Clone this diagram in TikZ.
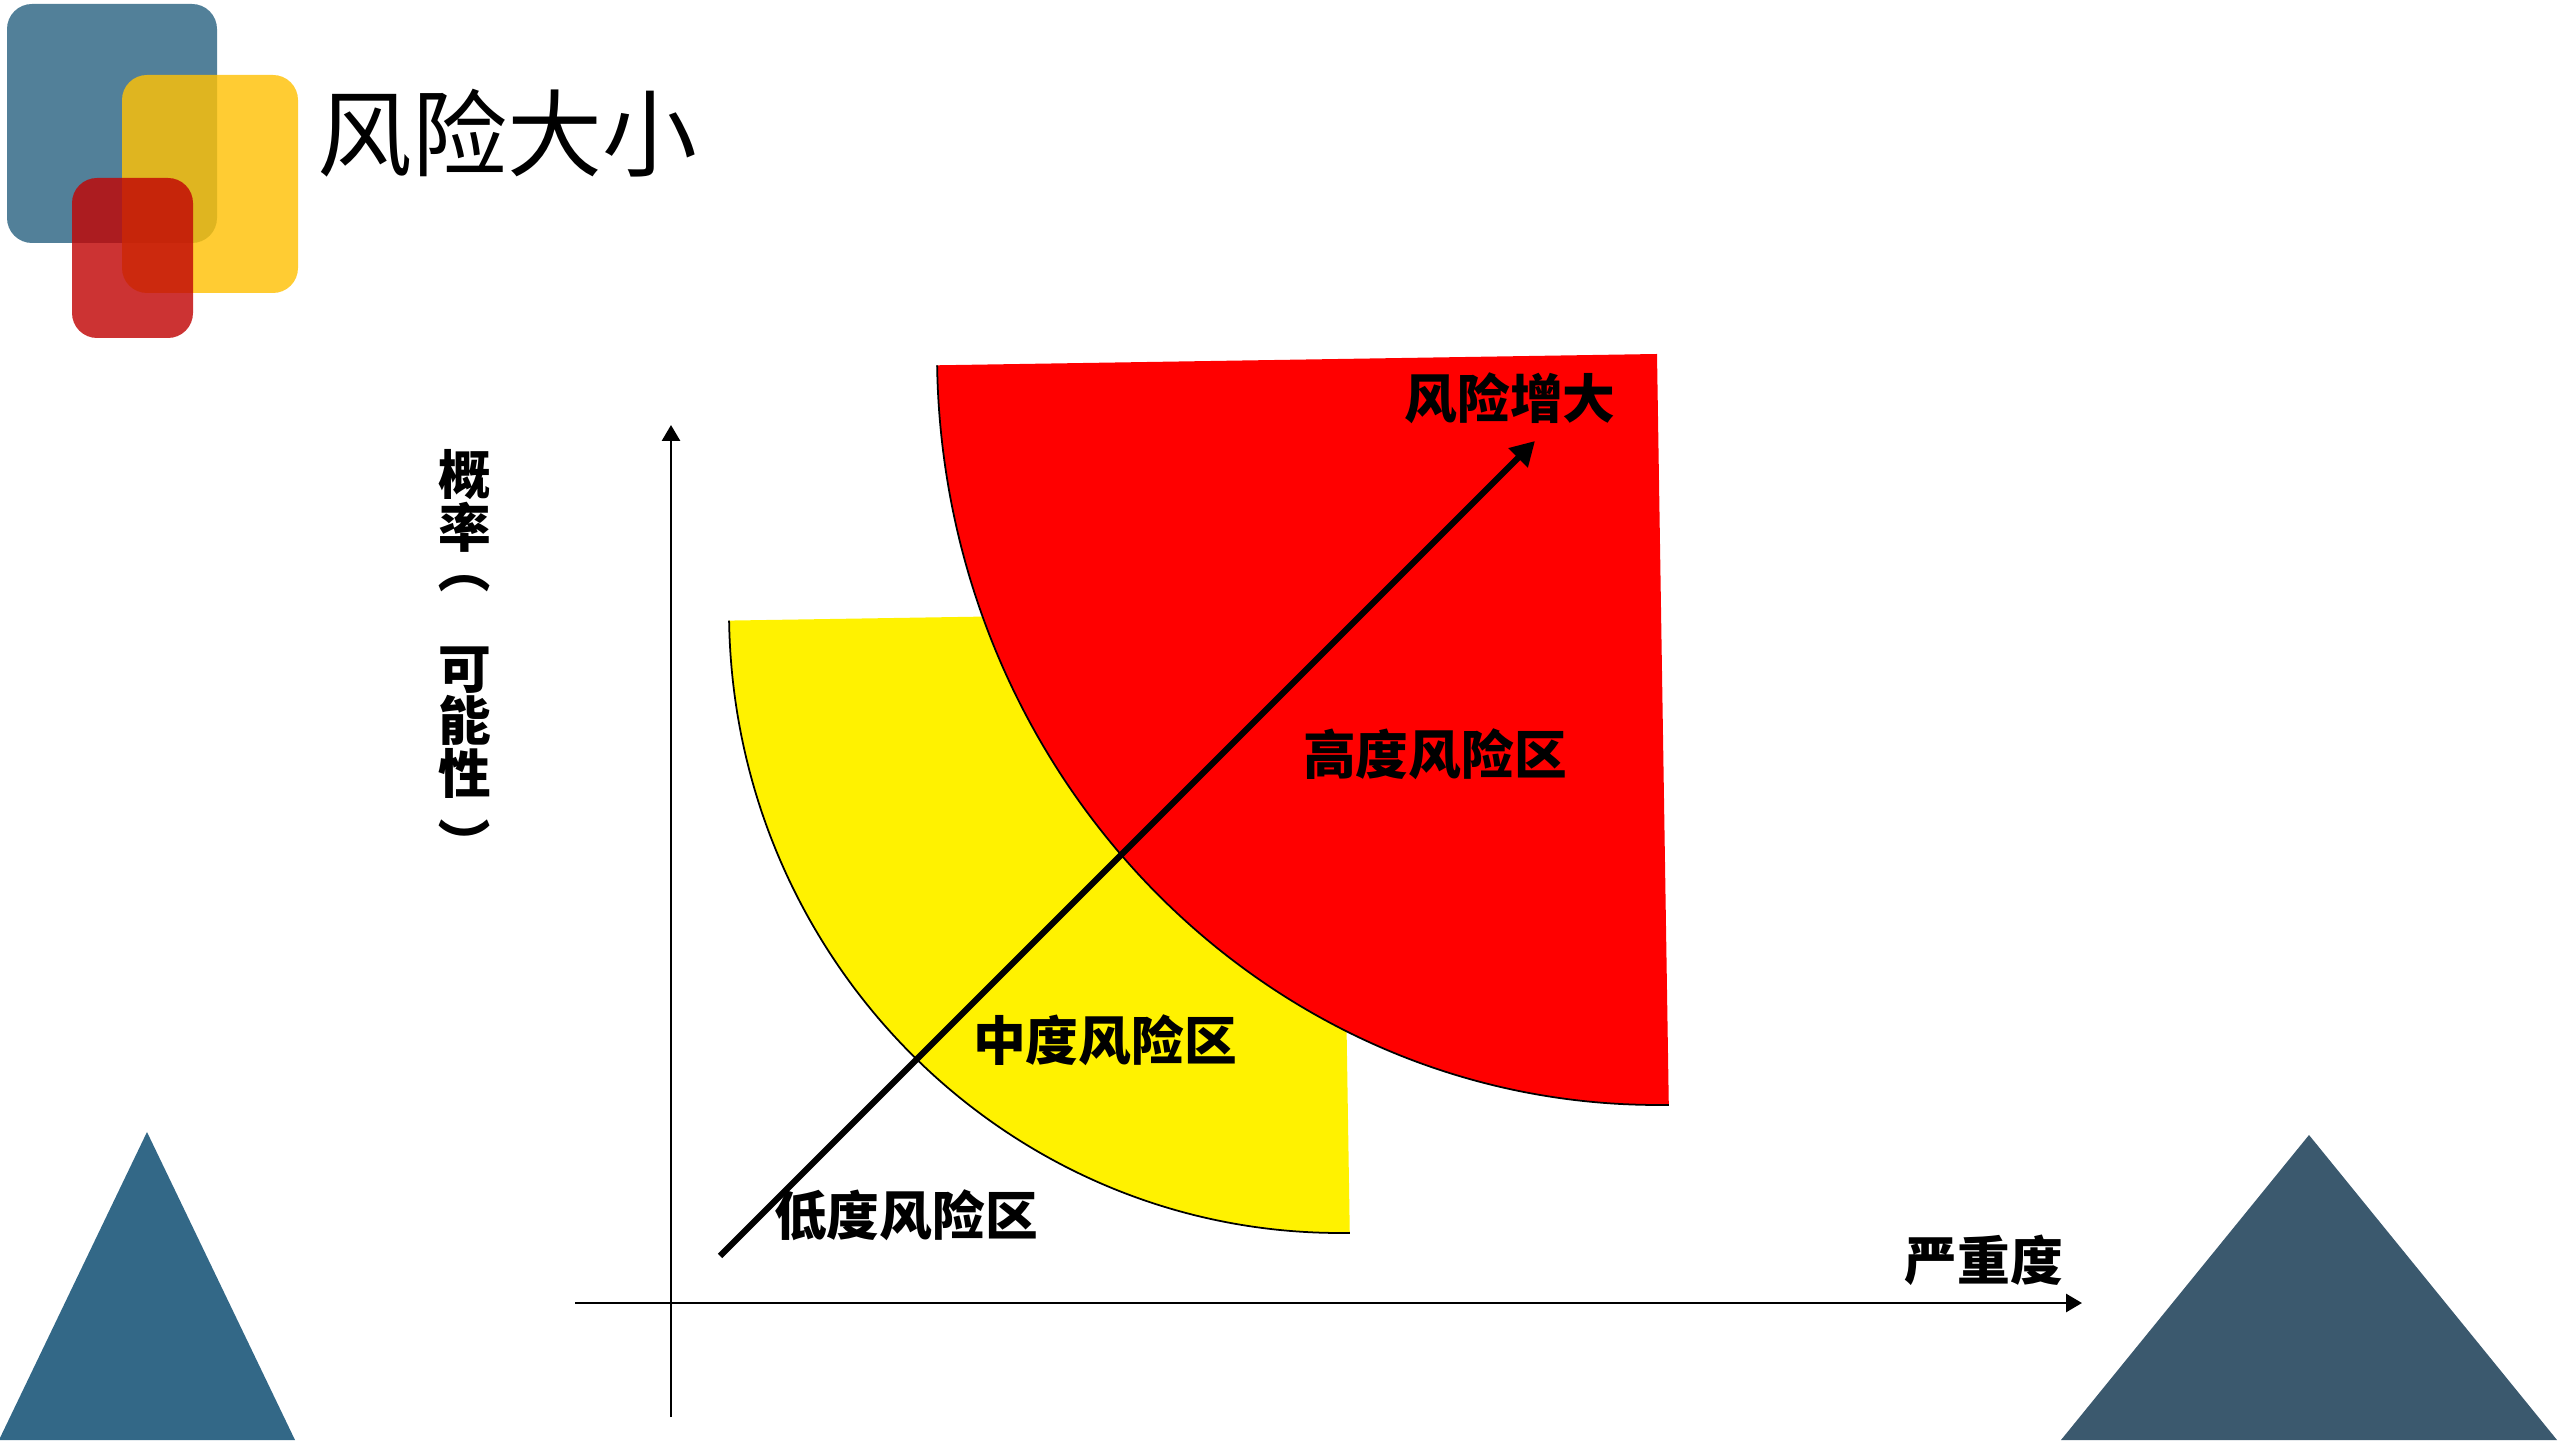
\documentclass[tikz,border=0pt]{standalone}
\usepackage{fontspec}
\setmainfont{Noto Sans CJK SC}
\usepackage{graphicx}
\usepackage{tikz}
\usetikzlibrary{arrows.meta, positioning, calc}

\definecolor{tileblue}{RGB}{82, 128, 153}
\definecolor{tileyellow}{RGB}{255, 193, 6}
\definecolor{tilered}{RGB}{193, 6, 6}
\definecolor{triblue}{RGB}{51, 104, 135}
\definecolor{trislate}{RGB}{59, 89, 110}

\begin{document}
\begin{tikzpicture}[
  zonelabel/.style={font=\fontsize{15}{15}\selectfont\bfseries, inner sep=0pt},
  axisline/.style={line width=0.8pt, -{Triangle[length=0.16cm, width=0.18cm]}},
  tile/.style={rounded corners=0.25cm, fill opacity=0.82}
]
  \useasboundingbox (0,0) rectangle (25.6,14.4);

  % Corner tiles and title
  \fill[tileblue, rounded corners=0.25cm] (0.07,11.97) rectangle (2.17,14.36);
  \fill[tile, tileyellow] (1.22,11.47) rectangle (2.98,13.65);
  \fill[tile, tilered] (0.72,11.02) rectangle (1.93,12.62);
  \node[font=\fontsize{27}{27}\selectfont, anchor=west, inner sep=0pt] (title) at (3.17,13.07) {风险大小};

  % Bottom triangles
  \fill[triblue] (-0.01,0) -- (1.47,3.08) -- (2.95,0) -- cycle;
  \fill[trislate] (20.61,0) -- (23.09,3.05) -- (25.57,0) -- cycle;

  % Yellow zone
  \begin{scope}[shift={(13.40,8.29)}, rotate=0.9]
    \fill[yellow] (0,0) -- (-6.11,0) arc[start angle=180, end angle=270, x radius=6.11, y radius=6.22] -- cycle;
    \draw[line width=0.5pt] (-6.11,0) arc[start angle=180, end angle=270, x radius=6.11, y radius=6.22];
  \end{scope}

  % Red zone
  \begin{scope}[shift={(16.57,10.86)}, rotate=0.9]
    \fill[red] (0,0) -- (-7.20,0) arc[start angle=180, end angle=270, x radius=7.20, y radius=7.51] -- cycle;
    \draw[line width=0.5pt] (-7.20,0) arc[start angle=180, end angle=270, x radius=7.20, y radius=7.51];
  \end{scope}

  % Axes
  \coordinate (ybot) at (6.71,0.23);
  \coordinate (ytop) at (6.71,10.15);
  \coordinate (xleft) at (5.75,1.37);
  \coordinate (xright) at (20.82,1.37);
  \draw[axisline] (ybot) -- (ytop);
  \draw[axisline] (xleft) -- (xright);

  % Risk direction
  \coordinate (riskstart) at (7.20,1.84);
  \coordinate (riskend) at (15.35,9.99);
  \draw[line width=1.8pt, -{Triangle[length=0.24cm, width=0.26cm]}] (riskstart) -- (riskend);

  % Labels
  \node[zonelabel] (grow) at (15.10,10.42) {风险增大};
  \node[zonelabel] (high) at (14.35,6.86) {高度风险区};
  \node[zonelabel] (mid) at (11.05,4.00) {中度风险区};
  \node[zonelabel] (low) at (9.06,2.25) {低度风险区};
  \node[zonelabel] (severity) at (19.84,1.80) {严重度};
  \node[zonelabel, align=center] (prob) at (4.65,7.80) {概\\率\\\raisebox{3.5pt}[0pt][0pt]{\rotatebox[origin=c]{-90}{（}}\\[10pt]可\\能\\性\\[5pt]\rotatebox[origin=c]{-90}{）}};
\end{tikzpicture}
\end{document}
